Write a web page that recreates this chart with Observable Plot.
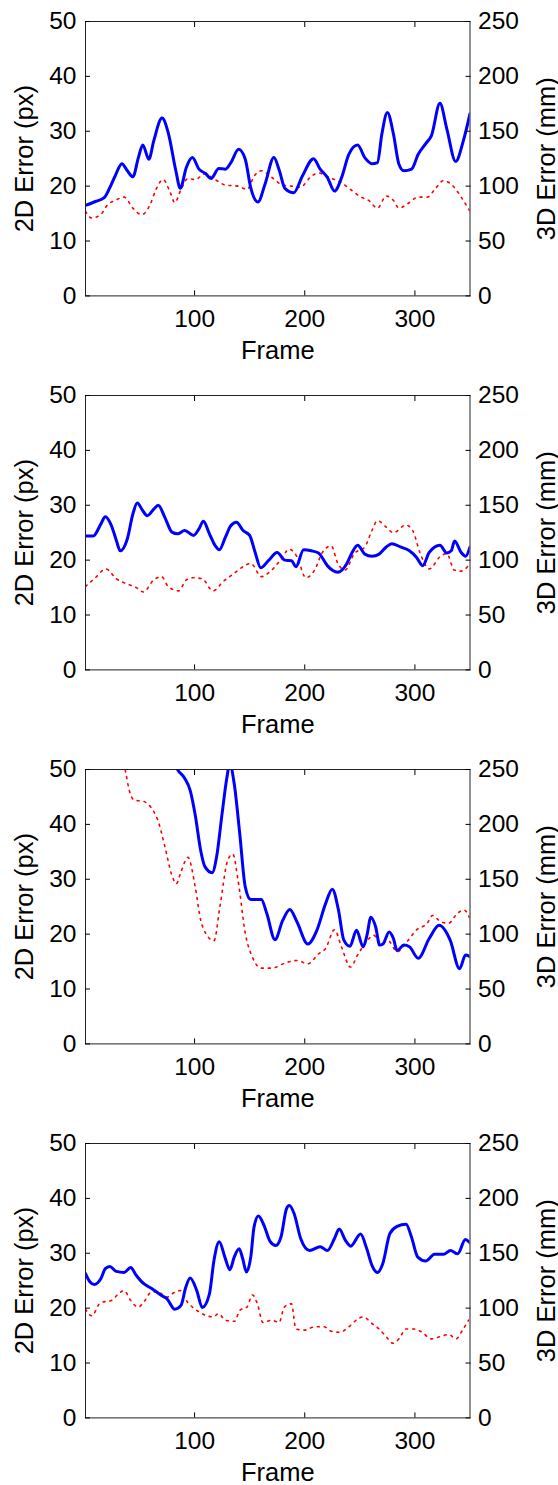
<!DOCTYPE html>
<html><head><meta charset="utf-8">
<script src="https://cdn.jsdelivr.net/npm/d3@7"></script>
<script src="https://cdn.jsdelivr.net/npm/@observablehq/plot@0.6"></script>
<style>
html,body{margin:0;padding:0;background:#fff;}
#charts svg{display:block;}
</style></head><body><div id="charts"></div>
<script>
const xTicks = [100, 200, 300];
const yTicks2D = [0, 10, 20, 30, 40, 50];
const yTicks3D = [0, 50, 100, 150, 200, 250];
const xLabel = "Frame";
const yLabel2D = "2D Error (px)";
const yLabel3D = "3D Error (mm)";

// [frame, 2D error px]
const p1Err2D = [[1,16.5],[10,17.2],[18,17.9],[23,19.7],[28,21.9],[34,24.1],[39,22.8],[44,21.7],[49,25.2],[53,27.5],[58.5,24.9],[63,28.3],[70.5,32.4],[76,29.8],[83,22.8],[87,19.6],[92.5,23.4],[98,25.2],[104,23.1],[110,22.3],[115,21.4],[122,23.2],[128,23.1],[133,24.3],[140,26.7],[146,24.9],[151,19.7],[157.5,17.1],[164,20.4],[172,25.2],[177,22.8],[182,19.6],[190,18.8],[198,21.9],[208,25.0],[214,23.1],[220.5,21.6],[227,19.1],[233.5,21.6],[240,25.8],[248,27.5],[254.5,25.2],[261,24.1],[266,24.3],[270,29.5],[275,33.4],[280.5,29.5],[285.5,24.0],[290,22.8],[297,23.1],[303,25.8],[310,27.8],[315,29.2],[322.7,35.1],[329,30.4],[337,24.5],[344,28.3],[350,33.2]];
// [frame, 3D error mm]
const p1Err3D = [[1,77],[6.6,71],[14.7,74],[21,83],[28,87],[36,90],[44,80],[52,74],[60,84],[65,97],[71.5,106],[78,94],[82,85],[87.7,97],[94,107],[100.6,106],[109,111],[118.5,106],[128,101],[139.5,100],[147.7,97],[154,109],[160.6,114],[170,108],[180,101],[188,100],[196,99],[206,109],[212.5,112],[222,108],[233.5,103],[241.5,97],[251,90],[258,87],[266,80],[274,91],[280.5,87],[285.5,80],[293.5,84],[303,90],[311.3,90],[318,97],[326,105],[335.6,99],[342,90],[350,77]];

const p2Err2D = [[1,24.4],[8,24.4],[15,26.6],[19,27.9],[24.5,26.3],[29,23.6],[32.5,21.7],[39,23.9],[44,28.4],[48,30.4],[53,29.0],[57,28.1],[63,29.3],[67,30.0],[73,27.8],[79.5,25.1],[84.5,24.8],[91,25.4],[99,24.5],[104,25.7],[108,27.1],[113.5,24.8],[118.5,22.7],[122.5,21.9],[128,24.2],[133,26.3],[138,26.9],[144,25.4],[150,24.5],[155,21.4],[160,18.6],[167,19.9],[175,21.4],[182,20.0],[188,19.9],[192,18.8],[199,21.9],[206,21.7],[212.5,21.3],[220.5,19.0],[225.5,18.1],[230,17.8],[238,19.3],[243,21.4],[248,22.7],[254.5,21.1],[261,20.7],[267.5,21.1],[274,22.4],[279,23.0],[287,22.4],[295,21.7],[301.5,20.5],[307,19.0],[313,21.4],[322.7,22.7],[329,21.3],[333,21.7],[336,23.5],[342,21.4],[346,20.7],[350,22.4]];
const p2Err3D = [[1,76],[10,84],[19.5,92],[29,83],[37,79],[47,75],[53.6,71],[63,82],[70,85],[76,76],[85.5,72],[92.5,82],[99,84],[107,83],[116.7,72],[126.5,81],[134.7,87],[144,94],[151,97],[160.6,85],[170,91],[178,100],[186,110],[193,103],[201,84],[209,91],[216,107],[224,113],[230,97],[236.6,91],[245,106],[254.5,112],[261,127],[266,136],[274,130],[280.5,125],[291.7,132],[298,127],[304.5,107],[313,92],[322.7,103],[329,106],[335.6,91],[342,90],[350,97]];

const p3Err2D = [[80,52],[84.5,50],[91,48.4],[96,46.2],[100.6,41.7],[105.5,35.3],[109.4,32.3],[116,31.2],[120,34.1],[125,42.0],[129,48.1],[132,51],[136,47.4],[141,38.3],[146,28.6],[151,26.3],[160.6,26.3],[165.5,23.8],[173,19.0],[180,22.5],[186.5,24.5],[193,22.2],[202.8,18.2],[211,20.7],[219,25.6],[225,28.2],[230.6,24.4],[235.5,18.9],[241,17.8],[247,20.7],[253,17.7],[256.5,19.8],[260,23.1],[264.4,21.3],[268,18.0],[271,18.2],[276.6,20.4],[280.5,19.2],[283.8,17.0],[290,18.0],[295,17.7],[303,15.6],[313,19.2],[322,21.6],[332,18.9],[340.5,13.7],[346,16.2],[350,15.9]];
const p3Err3D = [[34,262],[37.4,248],[40.7,231],[45.5,222],[53.6,221],[60,216],[66.6,204],[73,180],[79,155],[83.5,146],[87.7,157],[94,170],[100.6,143],[105.5,113],[110,101],[117.6,94],[123,125],[130,167],[134.7,173],[139.5,149],[146,101],[152.5,79],[160.6,69],[170,69],[183,74],[193,76],[202.8,73],[212.5,82],[219,87],[227,104],[233.5,88],[241.5,70],[248,81],[254.5,91],[262.6,99],[269,91],[275.6,94],[283.8,84],[293.5,94],[301.6,104],[311.3,110],[316,117],[324,111],[330.6,110],[338.6,119],[344.6,122],[350,114]];

const p4Err2D = [[1,26.3],[5,24.8],[9,24.3],[15,25.4],[19,27.2],[23,27.6],[29,26.7],[36,26.5],[42,27.4],[47,26.0],[53.6,24.5],[61.7,23.5],[70,22.3],[75,21.7],[82,19.8],[87.7,20.5],[92,23.8],[96,25.5],[102,23.2],[107,20.1],[113.5,22.6],[117.6,28.7],[122.4,32.1],[127.5,29.3],[132,27.0],[136,29.3],[140.5,30.8],[143.7,29.0],[147,26.6],[151,29.3],[154,34.8],[158,36.8],[163,35.1],[168.7,32.1],[173.6,31.4],[178.5,33.0],[183.4,38.1],[186,38.7],[190.4,37.2],[196.3,32.7],[204.4,30.5],[214,31.2],[220.6,30.5],[227,32.7],[231.3,34.4],[236.8,32.4],[241.7,31.3],[250.7,33.5],[256.3,30.8],[261,27.8],[266,26.5],[270.8,28.1],[277.3,33.6],[283.8,34.9],[292,35.3],[296.8,33.0],[302.6,29.3],[309.7,28.6],[317.8,29.8],[326,29.8],[332.3,30.5],[338.8,29.9],[345.8,32.5],[350,31.9]];
const p4Err3D = [[1,99],[6.6,93],[14.7,105],[24.5,107],[31,113],[36,116],[42,107],[48.7,101],[55,107],[60,114],[66.6,115],[74.7,110],[82.8,115],[87.7,116],[92.5,107],[100.6,99],[108.8,94],[117,92],[121.7,95],[128,89],[136.4,88],[141,98],[147.6,101],[152.5,112],[157,104],[162,87],[170,89],[176.7,87],[181.5,101],[188,104],[192,81],[199.5,80],[209,83],[217.5,83],[224,79],[232,78],[240,83],[248,90],[253,92],[261,86],[267.5,81],[274,74],[280,68],[285.5,72],[292,81],[298.5,81],[306.6,78],[314.7,72],[322.8,74],[330.8,76],[337.3,72],[343.8,81],[348.7,89]];

const panels = [
  {err2D: p1Err2D, err3D: p1Err3D},
  {err2D: p2Err2D, err3D: p2Err3D},
  {err2D: p3Err2D, err3D: p3Err3D},
  {err2D: p4Err2D, err3D: p4Err3D}
];

const mmPerPx = yTicks3D[yTicks3D.length - 1] / yTicks2D[yTicks2D.length - 1];
const font = "'Liberation Sans', Arial, Helvetica, sans-serif";
const container = document.getElementById("charts");

panels.forEach((p, i) => {
  const blue = p.err2D.map(([f, v]) => ({frame: f, y: v}));
  const red = p.err3D.map(([f, v]) => ({frame: f, y: v / mmPerPx}));
  const h = i === 3 ? 363 : 374;
  const chart = Plot.plot({
    width: 558,
    height: h,
    marginTop: 21,
    marginBottom: h - 21 - 274.4,
    marginLeft: 85,
    marginRight: 88.5,
    style: {fontFamily: font, fontSize: "24.5px", color: "black", background: "white", overflow: "visible"},
    x: {domain: [1, 350]},
    y: {domain: [0, 50]},
    marks: [
      Plot.lineY(red, {x: "frame", y: "y", stroke: "#ff0000", strokeWidth: 1.6, strokeDasharray: "2,5", curve: "monotone-x", clip: true}),
      Plot.lineY(blue, {x: "frame", y: "y", stroke: "#0000ff", strokeWidth: 3, curve: "monotone-x", clip: true}),
      Plot.frame({stroke: "#222", strokeWidth: 1}),
      Plot.axisX(xTicks, {anchor: "bottom", tickSize: -5, tickPadding: 18.6, label: null, fontSize: 24.5}),
      Plot.axisX(xTicks, {anchor: "top", tickSize: -5, tickFormat: () => "", label: null}),
      Plot.axisY(yTicks2D, {anchor: "left", tickSize: -5, tickPadding: 14, label: null, fontSize: 24.5}),
      Plot.axisY(yTicks2D, {anchor: "right", tickSize: -5, tickPadding: 13, label: null, fontSize: 24.5, tickFormat: d => d * mmPerPx}),
      Plot.text([xLabel], {text: d => d, frameAnchor: "bottom", dy: 63.3, lineAnchor: "bottom", textAnchor: "middle", fontSize: 25.5, fill: "black"}),
      Plot.text([yLabel2D], {text: d => d, frameAnchor: "left", dx: -60.4, rotate: -90, lineAnchor: "middle", textAnchor: "middle", fontSize: 25.5, fill: "black"}),
      Plot.text([yLabel3D], {text: d => d, frameAnchor: "right", dx: 77, rotate: -90, lineAnchor: "middle", textAnchor: "middle", fontSize: 25.5, fill: "black"})
    ]
  });
  container.appendChild(chart);
});
</script>
</body></html>
